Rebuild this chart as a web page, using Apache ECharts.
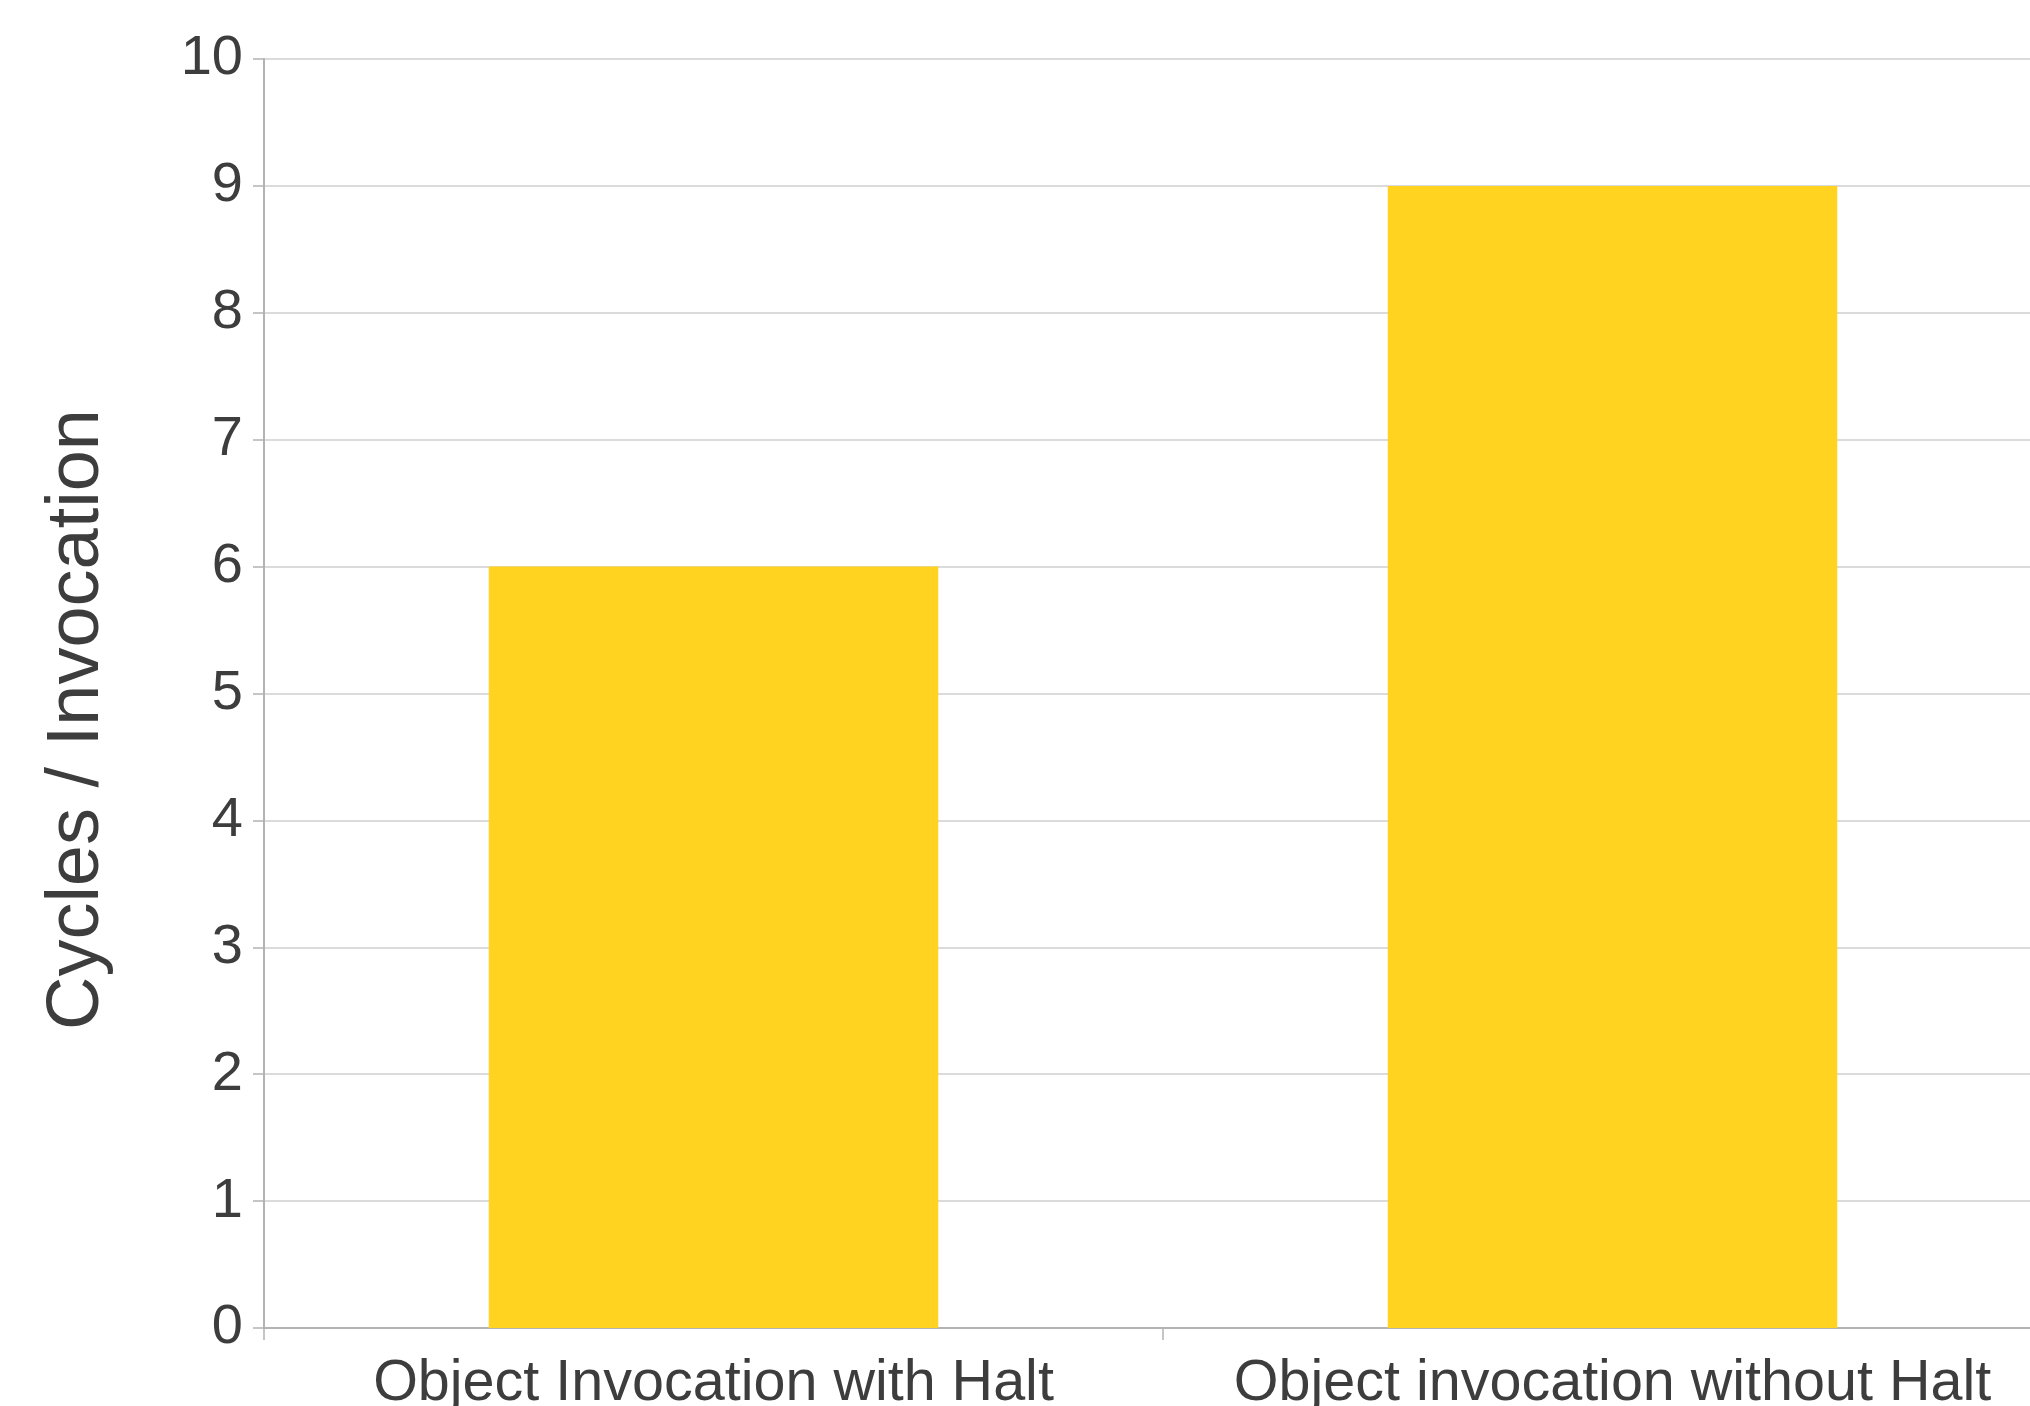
<!DOCTYPE html>
<html>
<head>
<meta charset="utf-8">
<style>html,body{margin:0;padding:0;background:#fff;}#c{width:2030px;height:1406px;}</style>
<script src="https://cdn.jsdelivr.net/npm/echarts@6/dist/echarts.min.js"></script>
</head>
<body>
<div id="c"></div>
<script>
const categories = ['Object Invocation with Halt', 'Object invocation without Halt'];
const values = [6, 9];
const yTicks = [0, 10, 1]; // min, max, interval
const yName = 'Cycles / Invocation';

const chart = echarts.init(document.getElementById('c'), null, {renderer: 'canvas'});
const textColor = '#3d3d3d';
const font = '"Liberation Sans", Arial, sans-serif';
chart.setOption({
  animation: false,
  backgroundColor: '#ffffff',
  grid: {left: 264, top: 59, width: 1798, height: 1269, containLabel: false, outerBoundsMode: 'none'},
  xAxis: {
    type: 'category',
    data: categories,
    boundaryGap: true,
    axisLine: {show: true, lineStyle: {color: '#b3b3b3', width: 2}},
    axisTick: {show: true, alignWithLabel: false, length: 12, lineStyle: {color: '#b3b3b3', width: 1.5}},
    axisLabel: {color: textColor, fontSize: 57.5, fontFamily: font, margin: 27, interval: 0},
    splitLine: {show: false}
  },
  yAxis: {
    type: 'value',
    min: yTicks[0], max: yTicks[1], interval: yTicks[2],
    name: yName,
    nameLocation: 'middle',
    nameGap: 149,
    nameRotate: 90,
    nameTextStyle: {color: textColor, fontSize: 74, fontFamily: font, padding: [0, 52, 0, 0]},
    axisLine: {show: true, lineStyle: {color: '#b3b3b3', width: 2}},
    axisTick: {show: true, length: 11, lineStyle: {color: '#b3b3b3', width: 1.5}},
    axisLabel: {color: textColor, fontSize: 56, fontFamily: font, margin: 21},
    splitLine: {show: true, lineStyle: {color: '#cfcfcf', width: 1.5}}
  },
  series: [{
    type: 'bar',
    data: values,
    barWidth: '50%',
    itemStyle: {color: '#FFD320'}
  }]
});
</script>
</body>
</html>
